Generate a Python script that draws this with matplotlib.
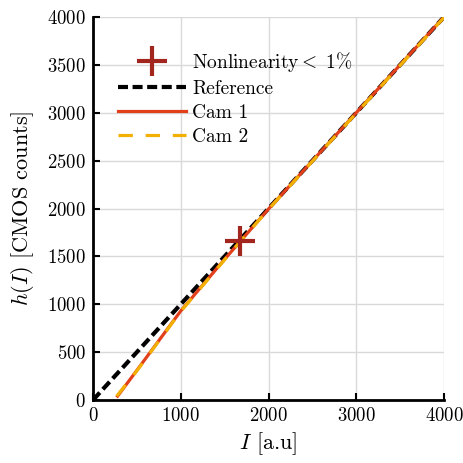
import matplotlib
matplotlib.use("Agg")
import matplotlib.pyplot as plt

plt.rcParams['font.family'] = 'serif'
plt.rcParams['font.serif'] = ['cmr10']
plt.rcParams['mathtext.fontset'] = 'cm'
plt.rcParams['axes.formatter.use_mathtext'] = True

# Response curves
ref_x = [0, 4000]
ref_y = [0, 4000]
cam1_x = [280, 500, 1000, 1500, 1700, 2000, 3000, 4000]
cam1_y = [40, 310, 930, 1470, 1680, 1995, 3000, 4000]
cam2_x = [270, 500, 1000, 1500, 1700, 2000, 3000, 4000]
cam2_y = [40, 305, 925, 1465, 1678, 1992, 2995, 3995]
mark_x = [1675]
mark_y = [1665]
ticks = [0, 1000, 2000, 3000, 4000]
yticks = [0, 500, 1000, 1500, 2000, 2500, 3000, 3500, 4000]

fig = plt.figure(figsize=(4.63, 4.63), dpi=100)
ax = fig.add_axes([93/463, 63/463, 351/463, 383/463])

ax.plot(mark_x, mark_y, '+', color='#A3261E', markersize=22, markeredgewidth=3,
        label=r'Nonlinearity$<\ 1\%$', zorder=5)
ax.plot(ref_x, ref_y, color='black', lw=3, dashes=[2.4, 1.1], label='Reference')
ax.plot(cam1_x, cam1_y, color='#E23F1B', lw=2.3, label='Cam 1')
ax.plot(cam2_x, cam2_y, color='#F2B005', lw=2.3, dashes=[4.5, 4], label='Cam 2')

ax.set_xlim(0, 4000)
ax.set_ylim(0, 4000)
ax.set_xticks(ticks)
ax.set_yticks(yticks)
ax.grid(True, color='#d9d9d9', lw=1)
ax.set_axisbelow(True)
for s in ['top', 'right']:
    ax.spines[s].set_visible(False)
for s in ['left', 'bottom']:
    ax.spines[s].set_linewidth(2)
ax.tick_params(direction='in', length=5, width=1.5, labelsize=13.5, pad=5)
ax.set_xlabel(r'$I$ [a.u]', fontsize=16, labelpad=4)
ax.set_ylabel(r'$h(I)$ [CMOS counts]', fontsize=16, labelpad=8)

ax.legend(loc='upper left', frameon=False, fontsize=14, handlelength=3.5,
          borderaxespad=0.0, bbox_to_anchor=(0.05, 0.935), labelspacing=0.32,
          handletextpad=0.3)

fig.savefig('out.png', dpi=100)
